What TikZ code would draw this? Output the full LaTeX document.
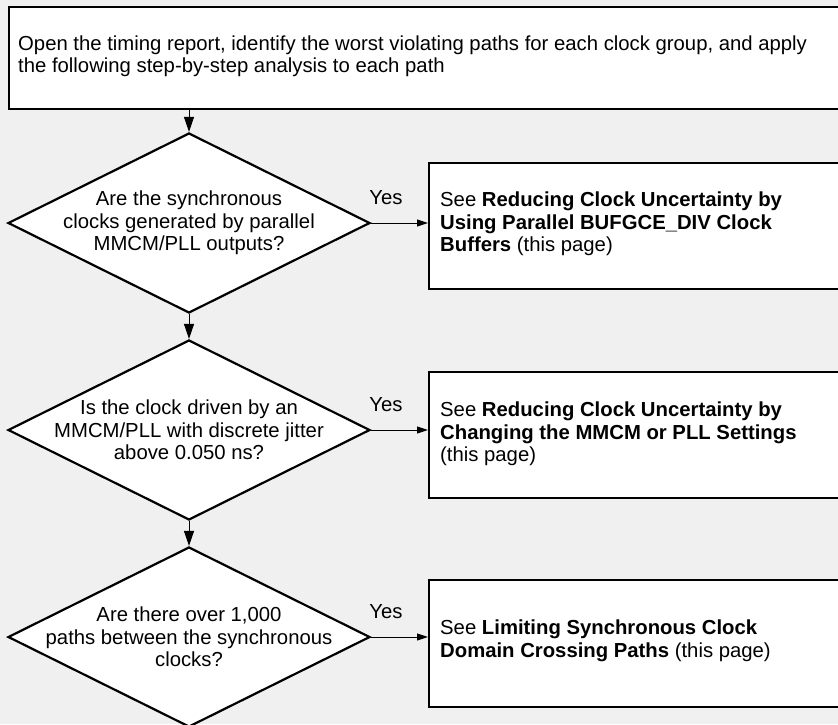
\documentclass[tikz,border=0pt]{standalone}
\usepackage{fontspec}
\setmainfont{Liberation Sans}
\usetikzlibrary{shapes.geometric,arrows.meta}
\definecolor{bg}{HTML}{F0F0F0}
\begin{document}
\begin{tikzpicture}[x=1pt,y=-1pt,
  box/.style={draw,line width=2.2pt,fill=white,anchor=north west,inner sep=0pt},
  dec/.style={draw,diamond,line width=2.2pt,fill=white,minimum width=362pt,minimum height=180pt,inner sep=0pt},
  txt/.style={font=\fontsize{20.3}{22.5}\selectfont,align=center,inner sep=0pt},
  ltxt/.style={font=\fontsize{20.3}{22.5}\selectfont,align=left,anchor=west,inner sep=0pt},
  varrow/.style={line width=1pt,-{Triangle[length=15pt,width=10pt]}},
  harrow/.style={line width=1pt,-{Triangle[length=11pt,width=7pt]}},
  yeslbl/.style={font=\fontsize{20.3}{22.5}\selectfont,inner sep=0pt,pos=0.26,yshift=25pt}
]
\fill[bg] (0,0) rectangle (838,724);
\useasboundingbox (0,0) rectangle (838,724);
\clip (0,0) rectangle (838,724);

% top box
\node[box,minimum width=860pt,minimum height=102pt] (top) at (8,6) {};
\node[ltxt] (toptxt) at (18,56) {Open the timing report, identify the worst violating paths for each clock group, and apply\\the following step-by-step analysis to each path};

% decisions
\node[dec] (d1) at (189,223) {};
\node[txt] (d1t) at (d1) {Are the synchronous\\clocks generated by parallel\\MMCM/PLL outputs?};
\node[dec] (d2) at (189,430) {};
\node[txt] (d2t) at (d2) {Is the clock driven by an\\MMCM/PLL with discrete jitter\\above 0.050 ns?};
\node[dec] (d3) at (189,637) {};
\node[txt] (d3t) at (d3) {Are there over 1,000\\paths between the synchronous\\clocks?};

% result boxes
\node[box,minimum width=440pt,minimum height=126pt] (b1) at (428,162) {};
\node[ltxt] (b1t) at (440,224) {See \textbf{Reducing Clock Uncertainty by}\\\textbf{Using Parallel BUFGCE\_DIV Clock}\\\textbf{Buffers} (this page)};
\node[box,minimum width=440pt,minimum height=126pt] (b2) at (428,371) {};
\node[ltxt] (b2t) at (440,434) {See \textbf{Reducing Clock Uncertainty by}\\\textbf{Changing the MMCM or PLL Settings}\\(this page)};
\node[box,minimum width=440pt,minimum height=127pt] (b3) at (428,579) {};
\node[ltxt] (b3t) at (440,641) {See \textbf{Limiting Synchronous Clock}\\\textbf{Domain Crossing Paths} (this page)};

% vertical connectors
\draw[varrow] (d1.north |- top.south) -- (d1.north);
\draw[varrow] (d1.south) -- (d2.north);
\draw[varrow] (d2.south) -- (d3.north);

% yes connectors
\draw[harrow] (d1.east) -- node[yeslbl] {Yes} (d1.east -| b1.west);
\draw[harrow] (d2.east) -- node[yeslbl] {Yes} (d2.east -| b2.west);
\draw[harrow] (d3.east) -- node[yeslbl] {Yes} (d3.east -| b3.west);
\end{tikzpicture}
\end{document}
